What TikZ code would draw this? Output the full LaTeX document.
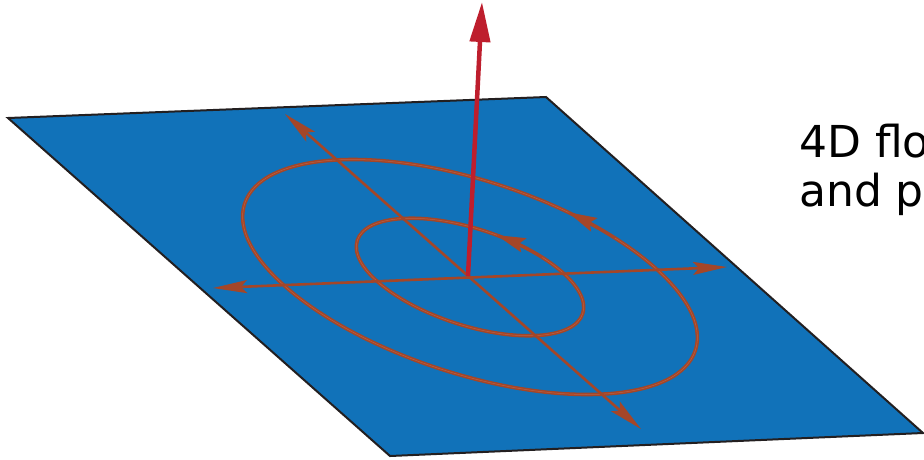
\documentclass[tikz,border=0pt]{standalone}
\usepackage{fontspec}
\setmainfont{DejaVu Sans}
\usetikzlibrary{arrows.meta}
\definecolor{planeblue}{RGB}{17,114,185}
\definecolor{rust}{RGB}{164,70,40}
\definecolor{rustlight}{RGB}{184,96,68}
\definecolor{arrowred}{RGB}{190,30,45}
\definecolor{edgecol}{RGB}{35,31,32}
\begin{document}
\begin{tikzpicture}[x=1pt,y=-1pt,
  plane/.style={fill=planeblue, draw=edgecol, line width=2pt, line join=miter},
  flowline/.style={draw=rust, line width=3.6pt},
  flowcore/.style={draw=rustlight, line width=0.5pt},
  axisline/.style={draw=rust, line width=2.6pt},
  flowtip/.style={draw=rust, line width=1.5pt, -{Stealth[length=29pt,width=15pt,inset=5pt]}},
  normalarrow/.style={draw=arrowred, line width=4.5pt, -{Triangle[length=40pt,width=20pt]}},
  label/.style={anchor=base west, inner sep=0pt, font=\fontsize{44}{60}\selectfont}
]
\useasboundingbox (0,0) rectangle (924,459);
% plane
\path[plane] (8,118) -- (546,97) -- (923,433) -- (390,456) -- cycle;
% key points
\coordinate (O) at (468,276);
\coordinate (A1) at (213,288);
\coordinate (A2) at (727,267);
\coordinate (B1) at (285,114);
\coordinate (B2) at (641,429);
\coordinate (T) at (482,2);
% ellipses
\begin{scope}[shift={(470,277)}, rotate=-18]
  \draw[flowline] (0,0) ellipse [x radius=237, y radius=96.6];
  \draw[flowcore] (0,0) ellipse [x radius=237, y radius=96.6];
  \draw[flowline] (0,0) ellipse [x radius=118.5, y radius=48.3];
  \draw[flowcore] (0,0) ellipse [x radius=118.5, y radius=48.3];
\end{scope}
% axes
\draw[axisline, {Stealth[length=34pt,width=13pt,inset=6pt]}-{Stealth[length=34pt,width=13pt,inset=6pt]}] (A1) -- (A2);
\draw[axisline, {Stealth[length=34pt,width=13pt,inset=6pt]}-{Stealth[length=34pt,width=13pt,inset=6pt]}] (B1) -- (B2);
% flow arrow heads
\begin{scope}[shift={(470,277)}, rotate=-18]
  \draw[flowtip] ({237*cos(-58)},{96.6*sin(-58)}) arc[start angle=-58, end angle=-72, x radius=237, y radius=96.6];
  \draw[flowtip] ({118.5*cos(-58)},{48.3*sin(-58)}) arc[start angle=-58, end angle=-84, x radius=118.5, y radius=48.3];
\end{scope}
% normal vector
\draw[normalarrow] (O) -- (T);
% text
\node[label] (t1) at (799,157) {4D flo};
\node[label] (t2) at (799,206) {and pl};
\end{tikzpicture}
\end{document}
